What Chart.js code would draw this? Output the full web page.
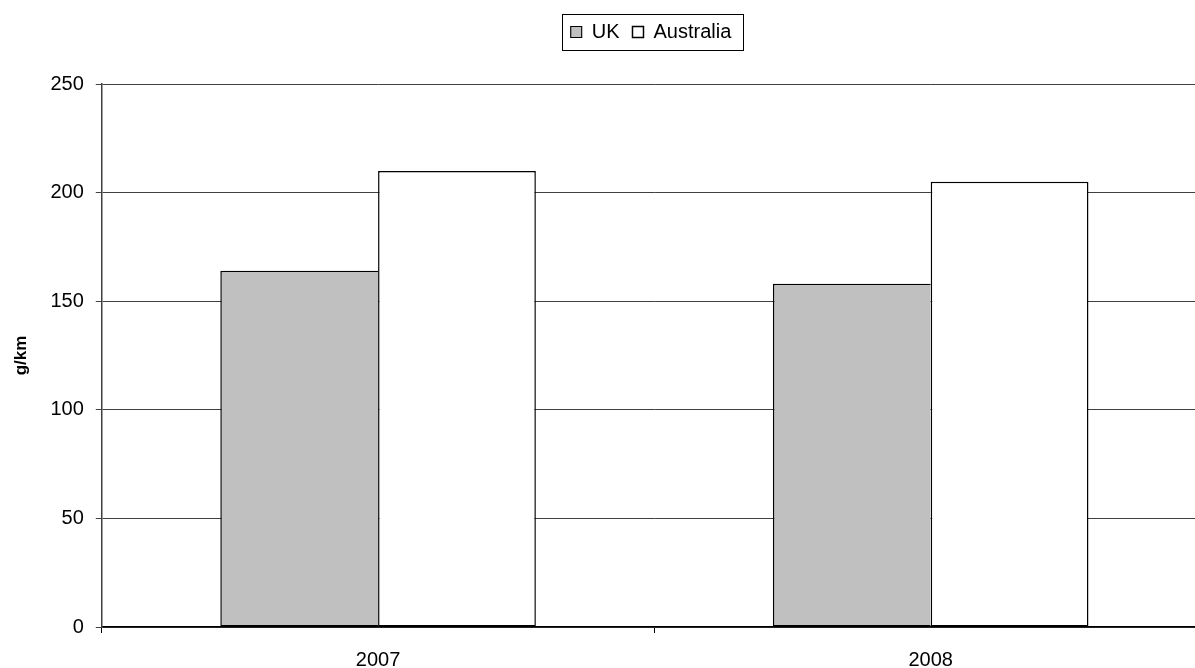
<!DOCTYPE html>
<html>
<head>
<meta charset="utf-8">
<script src="https://cdn.jsdelivr.net/npm/chart.js@4/dist/chart.umd.min.js"></script>
<style>
  html, body { margin: 0; padding: 0; background: #fff; overflow: hidden; }
  #wrap { width: 1304px; height: 687px; position: relative; }
</style>
</head>
<body>
<div id="wrap"><canvas id="chart"></canvas></div>
<script>
// data
var years = ["2007", "2008"];
var ukValues = [164, 158];
var australiaValues = [210, 205];
var yTicks = [0, 50, 100, 150, 200, 250];

// extra room under the legend, shift it right, and a frame round its items
var legendFrame = {
    id: 'legendFrame',
    beforeLayout: function (chart) {
        var lg = chart.legend;
        if (lg && !lg._extraPatched) {
            var origFit = lg.fit;
            lg.fit = function () {
                origFit.call(this);
                this.height += 32;
            };
            lg._extraPatched = true;
        }
    },
    afterLayout: function (chart) {
        var lg = chart.legend;
        lg.left += 42;
        lg.right += 42;
    },
    afterDraw: function (chart) {
        var boxes = chart.legend.legendHitBoxes;
        if (!boxes || !boxes.length) return;
        var first = boxes[0], last = boxes[boxes.length - 1];
        var x0 = first.left - 9;
        var x1 = last.left + last.width + 11;
        var y0 = first.top - 8;
        var y1 = first.top + first.height + 8;
        var ctx = chart.ctx;
        ctx.save();
        ctx.strokeStyle = '#000';
        ctx.lineWidth = 1;
        ctx.strokeRect(Math.round(x0) + 0.5, Math.round(y0) + 0.5, Math.round(x1 - x0), Math.round(y1 - y0));
        ctx.restore();
    }
};

new Chart(document.getElementById("chart"), {
    type: "bar",
    data: {
        labels: years,
        datasets: [{
            label: "UK",
            data: ukValues,
            backgroundColor: "#c0c0c0",
            borderColor: "#000",
            borderWidth: { top: 1.5, left: 1.5, bottom: 1.5, right: 0 },
            borderSkipped: false
        }, {
            label: "Australia",
            data: australiaValues,
            backgroundColor: "#ffffff",
            borderColor: "#000",
            borderWidth: 1.5,
            borderSkipped: false
        }]
    },
    options: {
        responsive: true,
        maintainAspectRatio: false,
        animation: false,
        datasets: {
            bar: { categoryPercentage: 0.571, barPercentage: 1.0 }
        },
        layout: {
            padding: { top: 9, right: 97, bottom: 0, left: 11 }
        },
        plugins: {
            legend: {
                display: true,
                position: "top",
                labels: {
                    font: { family: "Liberation Sans", size: 20 },
                    color: "#000",
                    boxWidth: 11,
                    boxHeight: 11,
                    padding: 13
                }
            },
            tooltip: { enabled: false }
        },
        scales: {
            x: {
                offset: true,
                grid: {
                    display: true,
                    offset: true,
                    drawOnChartArea: false,
                    tickLength: 6,
                    color: "#000"
                },
                border: { color: "#000", width: 1.5 },
                ticks: {
                    font: { family: "Liberation Sans", size: 20 },
                    color: "#000",
                    padding: 15
                }
            },
            y: {
                min: 0,
                max: 250,
                afterBuildTicks: function (axis) {
                    axis.ticks = yTicks.map(function (v) { return { value: v }; });
                },
                grid: {
                    color: "#404040",
                    lineWidth: 1,
                    tickLength: 6
                },
                border: { color: "#404040", width: 1.5 },
                ticks: {
                    font: { family: "Liberation Sans", size: 20 },
                    color: "#000",
                    padding: 12
                },
                title: {
                    display: true,
                    text: "g/km",
                    font: { family: "Liberation Sans", size: 17, weight: "bold" },
                    color: "#000",
                    padding: { top: 0, bottom: 7 }
                }
            }
        }
    },
    plugins: [legendFrame]
});
</script>
</body>
</html>
